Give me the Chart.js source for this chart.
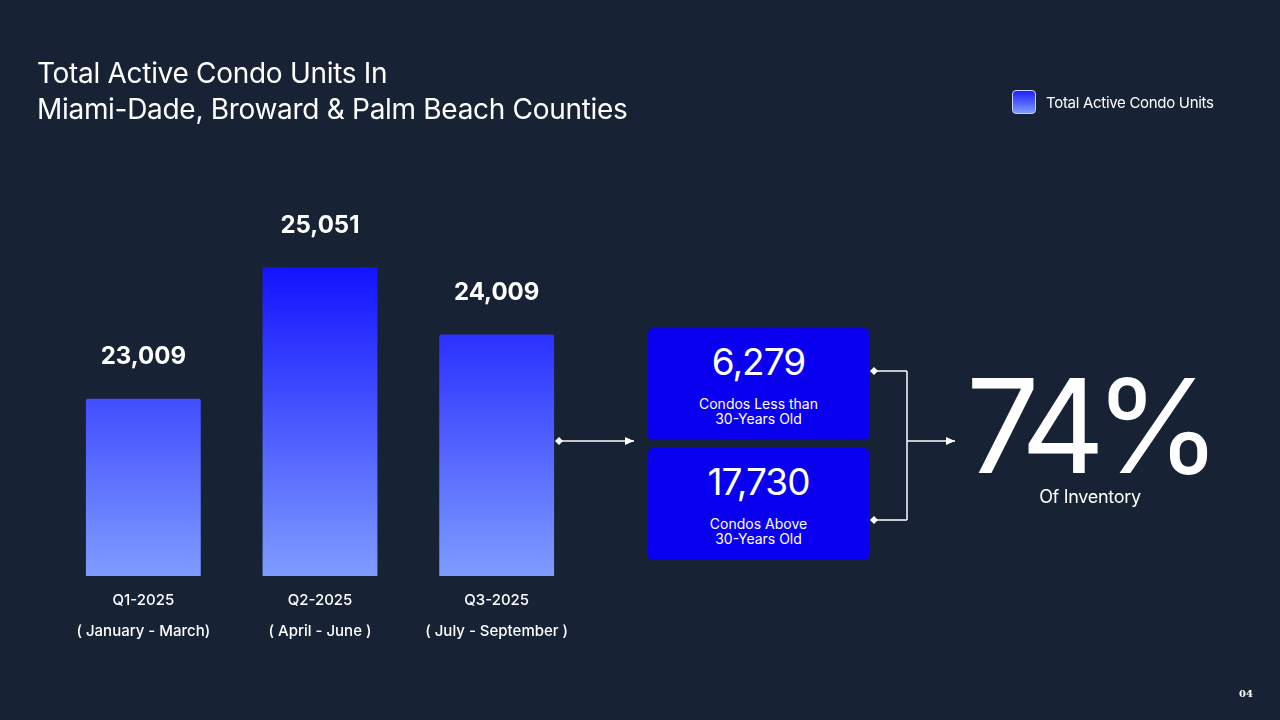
<!DOCTYPE html>
<html><head><meta charset="utf-8">
<script src="https://cdn.jsdelivr.net/npm/chart.js@4/dist/chart.umd.min.js"></script>
<style>
html,body{margin:0;padding:0;background:#172335;width:1280px;height:720px;overflow:hidden;font-family:Inter,"Noto Sans",sans-serif;color:#fff}
#wrap{position:absolute;left:0;top:0;width:1280px;height:720px}
.abs{position:absolute}
.box{position:absolute;left:648px;width:221px;height:112px;background:#0a00f0;border-radius:5px;text-align:center}
.box .n{font-size:37px;margin-top:14px;line-height:40px;letter-spacing:-1px}
.box .t{font-size:14px;line-height:15px;margin-top:14px}
</style></head><body>
<div id="wrap"><canvas id="c" width="1280" height="720"></canvas></div>
<div class="abs" style="left:37px;top:55px;font-size:28px;line-height:36px;font-weight:400;letter-spacing:-0.3px">Total Active Condo Units In<br>Miami-Dade, Broward &amp; Palm Beach Counties</div>
<div class="abs" style="left:1012px;top:90px;width:22px;height:22px;border:1px solid #c9d0ff;border-radius:4px;background:linear-gradient(#2020ff,#7d9bff)"></div>
<div class="abs" style="left:1046px;top:93px;font-size:15px;letter-spacing:-0.3px">Total Active Condo Units</div>
<div class="box" style="top:328px"><div class="n">6,279</div><div class="t">Condos Less than<br>30-Years Old</div></div>
<div class="box" style="top:448px"><div class="n">17,730</div><div class="t">Condos Above<br>30-Years Old</div></div>
<div class="abs" style="left:966px;top:356px;font-size:130px;line-height:140px;letter-spacing:-11px;font-weight:400">74%</div>
<div class="abs" style="left:1000px;width:180px;text-align:center;top:486px;font-size:18px;letter-spacing:-0.3px">Of Inventory</div>
<div class="abs" style="left:1239px;top:688px;font-size:10px;font-family:'DejaVu Serif',serif;font-weight:bold">04</div>
<script>
const categories=["Q1-2025","Q2-2025","Q3-2025"];
const subLabels=["( January - March)","( April - June )","( July - September )"];
const values=[23009,25051,24009];
const seriesName="Total Active Condo Units";

function arrowLine(ctx,x1,y,x2,dia,head){
  ctx.beginPath();ctx.moveTo(x1,y);ctx.lineTo(x2,y);ctx.stroke();
  if(dia){ctx.beginPath();ctx.moveTo(x1-4,y);ctx.lineTo(x1,y-4);ctx.lineTo(x1+4,y);ctx.lineTo(x1,y+4);ctx.closePath();ctx.fill();}
  if(head){ctx.beginPath();ctx.moveTo(x2,y);ctx.lineTo(x2-9,y-4);ctx.lineTo(x2-9,y+4);ctx.closePath();ctx.fill();}
}
const deco={id:'deco',afterDatasetsDraw(chart){
  const ctx=chart.ctx;const meta=chart.getDatasetMeta(0);const xs=chart.scales.x;
  ctx.save();ctx.fillStyle='#fff';ctx.textAlign='center';
  meta.data.forEach((b,i)=>{
    ctx.font='bold 24px Inter, sans-serif';ctx.textBaseline='middle';
    ctx.fillText(values[i].toLocaleString('en-US'),b.x,b.y-42);
    const x=xs.getPixelForValue(i);
    ctx.font='500 15px Inter, sans-serif';
    ctx.fillText(categories[i],x,600);
    ctx.fillText(subLabels[i],x,631);
  });
  ctx.strokeStyle='#fff';ctx.lineWidth=1.5;
  arrowLine(ctx,559,441,634,true,true);
  arrowLine(ctx,874,371,907,true,false);
  arrowLine(ctx,874,520,907,true,false);
  ctx.beginPath();ctx.moveTo(907,371);ctx.lineTo(907,520);ctx.stroke();
  arrowLine(ctx,907,441,955,false,true);
  ctx.restore();
}};
new Chart(document.getElementById('c'),{
  type:'bar',
  data:{labels:categories,datasets:[{label:seriesName,data:values,
    backgroundColor(c){const a=c.chart.chartArea;if(!a)return '#3040ff';
      const g=c.chart.ctx.createLinearGradient(0,264,0,a.bottom);g.addColorStop(0,'#1212ff');g.addColorStop(1,'#7f9cff');return g;},
    borderRadius:2,borderSkipped:false,barPercentage:0.65,categoryPercentage:1}]},
  options:{responsive:false,animation:false,
    layout:{padding:{left:55,right:695,top:200,bottom:144}},
    plugins:{legend:{display:false},tooltip:{enabled:false}},
    scales:{x:{display:false},y:{display:false,min:20250,max:26100}}},
  plugins:[deco]
});
</script></body></html>
